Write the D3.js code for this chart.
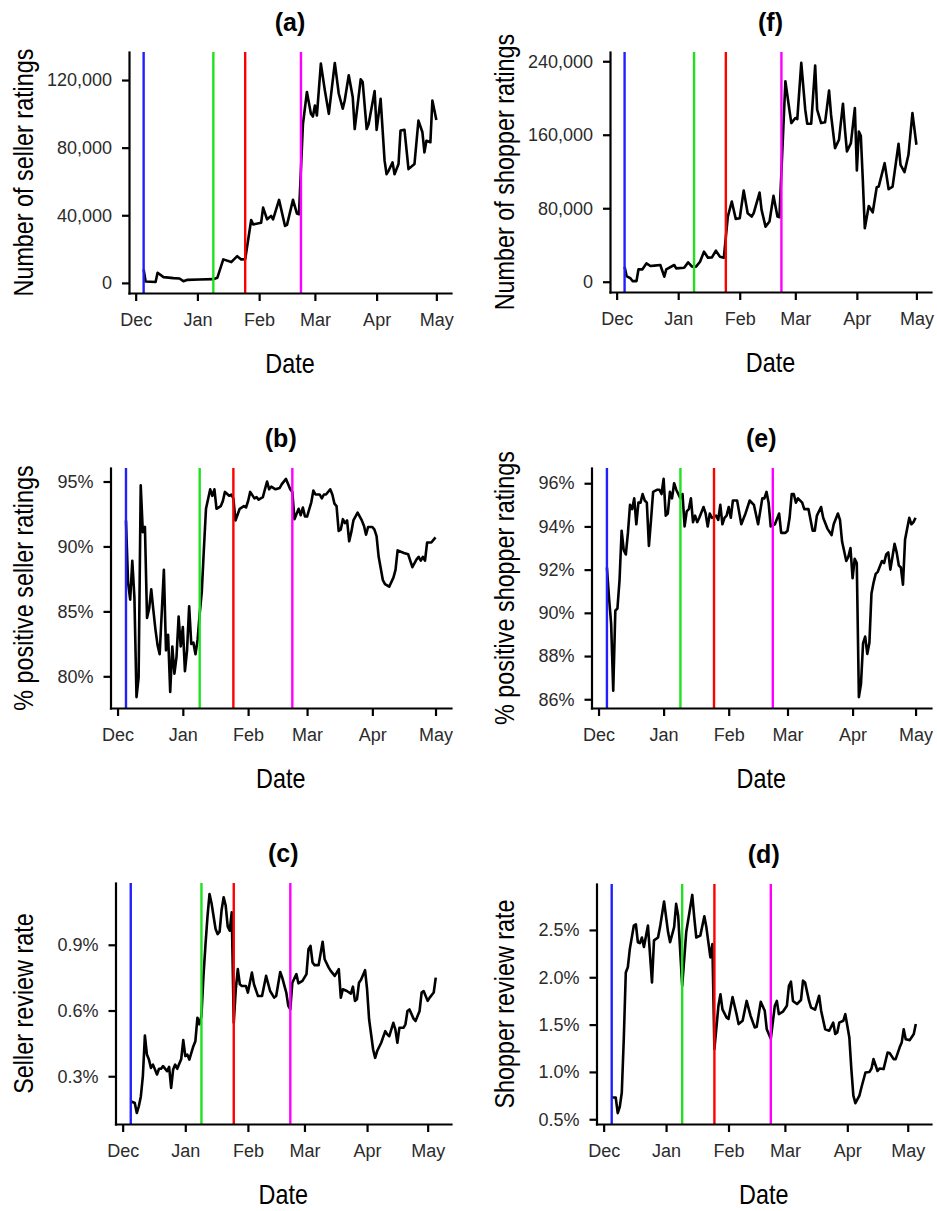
<!DOCTYPE html>
<html>
<head>
<meta charset="utf-8">
<script src="https://d3js.org/d3.v7.min.js"></script>
<style>
  body { margin: 0; background: #fff; }
  .axis path, .axis line { stroke: #000; stroke-width: 2.2px; }
  .axis path { stroke-linecap: square; }
  .tick text { font-family: "Liberation Sans", Arial, sans-serif; font-size: 18px; fill: #2b2b2b; }
  .line { fill: none; stroke: #000; stroke-width: 2.6px; stroke-linejoin: round; }
  .ptitle { font-family: "Liberation Sans", Arial, sans-serif; font-weight: bold; font-size: 25px; fill: #000; }
  .atitle { font-family: "Liberation Sans", Arial, sans-serif; font-size: 28.5px; fill: #000; }
</style>
</head>
<body>
<script>
// day offsets are counted from 1 Dec 2020
var monthDays = [0, 31, 62, 90, 121, 151];
var monthLabels = ["Dec", "Jan", "Feb", "Mar", "Apr", "May"];
var eventDays = [4, 39, 55, 83];
var eventColors = ["#2020ff", "#20e020", "#ff0000", "#ff00ff"];

// (a) number of seller ratings
var daysA = [4,5,10,11,14,19,22,24,26,32,39,41,44,48,51,53,55,58,59,63,64,66,68,69,72,75,76,79,81,82,84,86,88,89,90,91,93,95,97,100,102,104,105,107,109,110,113,114,116,117,120,121,123,125,126,127,129,130,132,133,135,137,140,142,144,145,146,148,149,151];
var sellerRatings = [8000,800,500,6000,3400,2800,2600,1000,1800,2000,2200,3000,13900,12300,15800,13900,14000,37200,34600,35600,44500,37600,39600,37600,49100,33700,34300,49100,41000,40600,94000,112900,100000,98400,104900,99000,129700,113900,100000,130100,111900,103000,108000,122800,110000,91000,120400,118800,91000,94000,113500,90500,108900,72300,64300,66300,71300,64300,70300,90100,90500,67300,70300,96000,89100,77200,84100,83200,107900,96400];

// (f) number of shopper ratings
var daysF = [4,5,7,8,10,11,13,15,17,19,22,24,25,29,30,34,36,38,40,42,44,46,48,50,52,54,56,58,60,62,64,66,68,69,72,73,75,77,79,81,82,85,87,88,90,91,93,95,96,98,100,101,103,105,107,108,110,112,114,115,116,118,120,121,122,123,124,125,127,129,131,132,135,137,139,142,143,145,147,149,151];
var shopperRatings = [16400,6200,3600,700,700,13500,13500,20000,17100,17500,18200,5500,13500,18200,14500,15300,21100,16400,16400,21800,32700,26200,26500,33800,27300,26200,70900,87300,68400,69100,99300,74500,70900,74500,97100,78200,60000,65500,93500,70900,70200,218200,187300,172700,178200,177100,238200,187300,172000,172000,235300,187300,172700,173500,208000,181800,145400,154500,193800,165500,141800,150900,189100,121100,163600,158900,110900,58200,82500,75600,102900,103600,129100,100700,103600,150200,127300,119300,138200,183600,149100];

// (b) % positive seller ratings
var daysB = [4,5,6,7,8,9,10,11,12,13,14,15,16,17,18,19,20,22,23,24,25,26,27,28,29,30,31,32,33,34,35,36,37,38,39,40,41,42,44,45,46,47,49,50,51,53,54,55,56,58,60,61,62,63,65,66,67,69,71,72,73,75,77,78,80,82,83,84,86,87,88,89,90,92,93,94,96,97,98,99,101,102,103,104,105,106,107,108,109,110,111,112,114,116,117,118,119,121,122,123,124,126,127,129,131,132,133,136,138,140,142,143,144,145,146,147,149,151];
var sellerPositive = [92.0,87.2,85.9,88.9,86.1,78.4,79.9,94.7,91.1,91.5,84.5,85.2,86.7,85.1,83.6,82.4,81.7,88.2,82.0,83.2,78.8,82.3,80.2,81.5,84.6,82.3,83.8,80.4,82.0,85.4,82.5,82.6,81.7,82.8,84.8,86.5,89.8,92.9,94.4,93.9,94.4,92.9,93.1,93.5,94.2,93.9,94.0,93.7,92.0,92.9,93.1,93.0,93.5,94.2,93.7,93.8,93.6,93.8,95.0,94.4,94.6,94.4,94.5,94.8,95.2,94.4,94.2,92.1,92.9,92.4,93.0,92.3,92.3,93.4,94.3,94.0,94.0,93.7,94.0,94.0,94.4,94.0,93.3,93.1,91.2,91.3,92.1,91.8,92.0,90.4,91.1,92.0,92.6,92.0,91.6,90.9,91.5,91.5,91.3,90.8,89.2,87.4,87.1,86.9,87.6,88.2,89.7,89.5,89.4,88.4,89.0,89.2,88.9,89.2,88.9,90.3,90.3,90.7];

// (e) % positive shopper ratings
var daysE = [4,5,6,7,8,9,10,11,12,13,14,15,16,17,18,19,20,21,22,23,24,25,26,28,29,30,31,32,33,34,35,36,37,39,40,41,42,43,44,45,46,47,48,50,51,52,53,54,56,57,58,59,60,61,62,63,64,66,68,70,72,74,76,78,79,80,81,82,84,86,87,89,90,91,92,93,94,95,97,98,100,102,103,104,106,107,109,111,112,114,115,116,118,119,120,121,122,123,124,125,126,127,128,129,130,131,132,133,135,136,137,138,139,141,142,143,144,145,146,148,149,150,151];
var shopperPositive = [92.1,90.7,89.5,86.4,90.1,90.2,91.5,93.8,92.9,92.7,93.7,95.0,94.8,95.3,94.1,95.1,95.1,95.5,95.2,95.1,93.1,94.3,95.6,95.7,95.7,95.5,96.2,94.5,94.6,95.6,95.3,96.0,95.7,95.3,95.5,94.0,94.7,94.8,95.3,94.2,94.5,94.2,94.4,94.9,94.6,94.0,94.6,94.4,94.5,94.3,95.0,94.1,94.4,94.5,94.9,94.4,95.2,95.2,94.1,94.6,95.2,95.0,94.1,95.3,95.3,95.6,95.1,94.0,94.1,94.6,93.7,93.7,93.8,94.4,95.5,95.5,95.1,95.3,95.1,94.8,94.8,93.8,93.8,94.5,94.9,94.4,93.9,93.6,94.1,94.6,94.3,93.3,92.4,92.6,93.0,91.6,92.5,92.3,86.1,86.7,88.6,88.9,88.1,88.6,90.9,91.4,91.8,91.9,92.4,92.3,92.7,92.8,92.0,93.2,92.8,92.2,92.1,91.3,93.4,94.4,94.1,94.2,94.4];

// (c) seller review rate, %
var daysC = [4,6,7,8,9,10,11,12,13,14,15,17,18,19,20,22,23,24,25,26,27,29,30,31,32,33,35,36,37,38,39,40,41,42,43,44,45,46,47,48,49,50,51,52,53,54,55,56,57,58,59,61,62,64,65,67,69,71,73,75,76,78,79,81,82,83,84,86,87,89,91,92,93,94,95,97,99,100,102,103,105,107,108,109,111,113,114,115,116,117,118,120,121,122,124,125,126,128,130,131,132,134,135,136,137,139,140,141,142,144,145,147,148,149,151,152,154,155];
var sellerReviewRate = [0.186,0.178,0.132,0.163,0.208,0.300,0.486,0.399,0.376,0.338,0.353,0.308,0.334,0.334,0.346,0.323,0.343,0.247,0.331,0.353,0.334,0.379,0.465,0.392,0.399,0.376,0.437,0.460,0.567,0.537,0.575,0.758,0.900,1.030,1.132,1.090,1.030,0.972,0.949,0.960,1.060,1.117,1.079,0.984,0.964,1.048,0.544,0.697,0.789,0.720,0.712,0.712,0.682,0.773,0.720,0.666,0.666,0.758,0.689,0.659,0.666,0.776,0.750,0.682,0.621,0.605,0.727,0.766,0.724,0.735,0.766,0.880,0.895,0.819,0.807,0.807,0.914,0.834,0.796,0.781,0.758,0.789,0.659,0.697,0.689,0.677,0.709,0.644,0.651,0.727,0.740,0.784,0.697,0.560,0.422,0.384,0.415,0.453,0.506,0.491,0.483,0.544,0.514,0.453,0.521,0.521,0.537,0.598,0.605,0.563,0.552,0.598,0.682,0.689,0.644,0.659,0.682,0.750];

// (d) shopper review rate, %
var daysD = [4,6,7,8,9,10,11,12,13,15,16,17,18,19,20,22,24,25,27,28,30,32,33,35,36,37,39,41,44,45,46,48,50,51,53,54,55,57,58,59,61,62,64,66,67,69,71,73,75,76,78,80,81,83,85,86,87,89,91,92,93,94,96,98,99,100,102,103,105,107,108,110,112,114,115,116,117,119,120,122,123,124,125,127,128,130,132,133,134,136,137,139,141,142,144,145,147,148,149,150,152,154,155];
var shopperReviewRate = [0.73,0.729,0.565,0.63,0.78,1.35,2.05,2.105,2.30,2.546,2.56,2.37,2.36,2.42,2.32,2.546,1.946,2.39,2.42,2.53,2.80,2.475,2.37,2.53,2.775,2.65,1.91,2.475,2.87,2.63,2.42,2.44,2.645,2.53,2.21,2.35,1.24,1.70,1.82,1.66,1.576,1.56,1.79,1.61,1.505,1.54,1.75,1.59,1.47,1.477,1.74,1.646,1.45,1.35,1.70,1.75,1.61,1.636,1.70,1.91,1.953,1.75,1.717,1.76,1.964,1.946,1.75,1.68,1.657,1.805,1.646,1.45,1.435,1.52,1.40,1.417,1.52,1.54,1.61,1.364,1.03,0.75,0.67,0.75,0.835,0.994,1.0,1.036,1.135,1.01,1.036,1.03,1.205,1.2,1.135,1.135,1.26,1.31,1.45,1.345,1.336,1.40,1.505];

var ticksA = [0, 40000, 80000, 120000];
var ticksF = [0, 80000, 160000, 240000];
var ticksB = [80, 85, 90, 95];
var ticksE = [86, 88, 90, 92, 94, 96];
var ticksC = [0.3, 0.6, 0.9];
var ticksD = [0.5, 1.0, 1.5, 2.0, 2.5];

var pct0 = function (d) { return d + "%"; };
var pct1 = function (d) { return d3.format(".1f")(d) + "%"; };

// box = [left, top, right, bottom] of the plot panel
var panels = [
    {title: "(a)", ylab: "Number of seller ratings", days: daysA, vals: sellerRatings, ticks: ticksA, fmt: d3.format(","), box: [129, 52, 451, 293], col: 0},
    {title: "(f)", ylab: "Number of shopper ratings", days: daysF, vals: shopperRatings, ticks: ticksF, fmt: d3.format(","), box: [610, 52, 931, 292], col: 1},
    {title: "(b)", ylab: "% positive seller ratings", days: daysB, vals: sellerPositive, ticks: ticksB, fmt: pct0, box: [110.5, 468, 451, 708], col: 0},
    {title: "(e)", ylab: "% positive shopper ratings", days: daysE, vals: shopperPositive, ticks: ticksE, fmt: pct0, box: [591.5, 468, 931, 708], col: 1},
    {title: "(c)", ylab: "Seller review rate", days: daysC, vals: sellerReviewRate, ticks: ticksC, fmt: pct1, box: [115.5, 883, 451, 1124], col: 0},
    {title: "(d)", ylab: "Shopper review rate", days: daysD, vals: shopperReviewRate, ticks: ticksD, fmt: pct1, box: [596.5, 884, 931, 1124], col: 1}
];
var ylabX = [33, 514];
var squeeze = 0.82; // no narrow face installed, so axis titles are compressed

var base = Date.UTC(2020, 11, 1);
function toDate(d) { return new Date(base + d * 864e5); }
function pad(ext) {
    var p = (ext[1] - ext[0]) * 0.05;
    return [ext[0] - p, ext[1] + p];
}

var svg = d3.select("body").append("svg")
    .attr("width", 937)
    .attr("height", 1211);

panels.forEach(function (p) {
    var L = p.box[0], T = p.box[1], R = p.box[2], B = p.box[3];
    var data = p.days.map(function (d, i) { return {date: toDate(d), v: p.vals[i]}; });

    var x = d3.scaleUtc().domain(pad(d3.extent(p.days)).map(toDate)).range([L, R]);
    var y = d3.scaleLinear().domain(pad(d3.extent(p.vals))).range([B, T]);

    var g = svg.append("g");

    // data line
    g.append("path")
        .datum(data)
        .attr("class", "line")
        .attr("d", d3.line()
            .x(function (d) { return x(d.date); })
            .y(function (d) { return y(d.v); }));

    // event markers
    g.selectAll(".event")
        .data(eventDays)
        .enter().append("line")
        .attr("x1", function (d) { return x(toDate(d)); })
        .attr("x2", function (d) { return x(toDate(d)); })
        .attr("y1", T)
        .attr("y2", B)
        .attr("stroke", function (d, i) { return eventColors[i]; })
        .attr("stroke-width", 2.4);

    // axes
    g.append("g")
        .attr("class", "axis")
        .attr("transform", "translate(0," + B + ")")
        .call(d3.axisBottom(x)
            .tickValues(monthDays.map(toDate))
            .tickFormat(function (d, i) { return monthLabels[i]; })
            .tickSize(8).tickPadding(12).tickSizeOuter(0));

    g.append("g")
        .attr("class", "axis")
        .attr("transform", "translate(" + L + ",0)")
        .call(d3.axisLeft(y)
            .tickValues(p.ticks)
            .tickFormat(p.fmt)
            .tickSize(7).tickPadding(10).tickSizeOuter(0));

    // titles
    g.append("text")
        .attr("class", "ptitle")
        .attr("x", (L + R) / 2)
        .attr("y", T - 21.5)
        .attr("text-anchor", "middle")
        .text(p.title);

    g.append("text")
        .attr("class", "atitle")
        .attr("transform", "translate(" + (L + R) / 2 + "," + (B + 80) + ") scale(" + squeeze + ",1)")
        .attr("text-anchor", "middle")
        .text("Date");

    g.append("text")
        .attr("class", "atitle")
        .attr("transform", "translate(" + ylabX[p.col] + "," + (T + B) / 2 + ") rotate(-90) scale(" + squeeze + ",1)")
        .attr("text-anchor", "middle")
        .text(p.ylab);
});
</script>
</body>
</html>
